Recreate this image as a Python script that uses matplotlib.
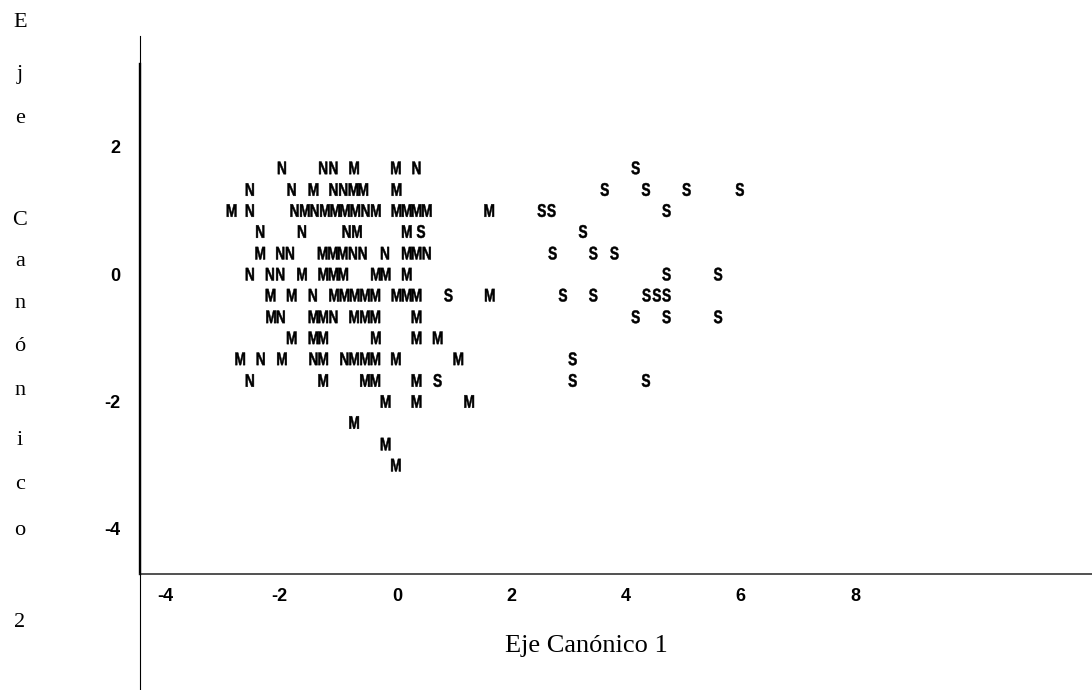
from pathlib import Path

import matplotlib

matplotlib.use("Agg")
import matplotlib.pyplot as plt
from matplotlib import patheffects
from matplotlib.lines import Line2D
from matplotlib.transforms import Affine2D, ScaledTranslation

# group N
n_x = [-2.01, -1.29, -1.11, 0.34,
       -2.57, -1.84, -1.11, -0.94,
       -2.57, -1.79, -1.44, -0.55,
       -2.39, -1.66, -0.88,
       -2.04, -1.87, -0.77, -0.60, -0.21, 0.52,
       -2.57, -2.22, -2.04,
       -1.47,
       -2.03, -1.11,
       -2.38, -1.46, -0.92,
       -2.57]
n_y = [1.67, 1.67, 1.67, 1.67,
       1.33, 1.33, 1.33, 1.33,
       1.0, 1.0, 1.0, 1.0,
       0.67, 0.67, 0.67,
       0.33, 0.33, 0.33, 0.33, 0.33, 0.33,
       0.0, 0.0, 0.0,
       -0.33,
       -0.67, -0.67,
       -1.33, -1.33, -1.33,
       -1.67]

# group M
m_x = [-0.75, -0.02,
       -1.46, -0.76, -0.59, -0.01,
       -2.89, -1.61, -1.26, -1.08, -0.91, -0.73, -0.37, -0.01, 0.17, 0.34, 0.52, 1.61,
       -0.70, 0.17,
       -2.39, -1.30, -1.12, -0.95, 0.17, 0.34,
       -1.66, -1.29, -1.11, -0.94, -0.37, -0.20, 0.17,
       -2.21, -1.84, -1.10, -0.92, -0.74, -0.56, -0.38, -0.01, 0.17, 0.34, 1.62,
       -2.20, -1.46, -1.29, -0.75, -0.56, -0.38, 0.34,
       -1.84, -1.46, -1.29, -0.37, 0.34, 0.71,
       -2.74, -2.01, -1.29, -0.75, -0.56, -0.38, -0.02, 1.07,
       -1.29, -0.56, -0.38, 0.34,
       -0.20, 0.34, 1.26,
       -0.75,
       -0.20,
       -0.02]
m_y = [1.67, 1.67,
       1.33, 1.33, 1.33, 1.33,
       1.0, 1.0, 1.0, 1.0, 1.0, 1.0, 1.0, 1.0, 1.0, 1.0, 1.0, 1.0,
       0.67, 0.67,
       0.33, 0.33, 0.33, 0.33, 0.33, 0.33,
       0.0, 0.0, 0.0, 0.0, 0.0, 0.0, 0.0,
       -0.33, -0.33, -0.33, -0.33, -0.33, -0.33, -0.33, -0.33, -0.33, -0.33, -0.33,
       -0.67, -0.67, -0.67, -0.67, -0.67, -0.67, -0.67,
       -1.0, -1.0, -1.0, -1.0, -1.0, -1.0,
       -1.33, -1.33, -1.33, -1.33, -1.33, -1.33, -1.33, -1.33,
       -1.67, -1.67, -1.67, -1.67,
       -2.0, -2.0, -2.0,
       -2.33,
       -2.67,
       -3.0]

# group S
s_x = [4.17,
       3.63, 4.35, 5.06, 5.99,
       2.53, 2.70, 4.71,
       0.42, 3.25,
       2.72, 3.43, 3.80,
       4.71, 5.61,
       0.90, 2.90, 3.43, 4.36, 4.54, 4.71,
       4.17, 4.71, 5.61,
       3.07,
       0.71, 3.07, 4.35]
s_y = [1.67,
       1.33, 1.33, 1.33, 1.33,
       1.0, 1.0, 1.0,
       0.67, 0.67,
       0.33, 0.33, 0.33,
       0.0, 0.0,
       -0.33, -0.33, -0.33, -0.33, -0.33, -0.33,
       -0.67, -0.67, -0.67,
       -1.33,
       -1.67, -1.67, -1.67]

x_ticks = [-4, -2, 0, 2, 4, 6, 8]
y_ticks = [2, 0, -2, -4]
x_title = "Eje Canónico 1"
y_title = "Eje Canónico 2"

W, H = 1092, 690


class Stretch(patheffects.AbstractPathEffect):
    """Rescale the glyphs around the centre of their ink, with a thin outline."""

    def __init__(self, sx, sy, lw=0.0):
        super().__init__()
        self.sx = sx
        self.sy = sy
        self.lw = lw

    def draw_path(self, renderer, gc, tpath, affine, rgbFace=None):
        box = tpath.get_extents(affine)
        cx = 0.5 * (box.x0 + box.x1)
        cy = 0.5 * (box.y0 + box.y1)
        grow = Affine2D().translate(-cx, -cy).scale(self.sx, self.sy).translate(cx, cy)
        gc0 = renderer.new_gc()
        gc0.copy_properties(gc)
        gc0.set_linewidth(self.lw)
        if rgbFace is not None:
            gc0.set_foreground(rgbFace)
        renderer.draw_path(gc0, tpath, affine + grow, rgbFace)
        gc0.restore()


def fx(px):
    return px / W


def fy(py):
    return 1 - py / H


def main() -> None:
    plt.rcParams["axes.unicode_minus"] = False
    fig = plt.figure(figsize=(W / 100, H / 100), dpi=100)
    fig.patch.set_facecolor("white")

    # plot area: x from px 140 to 1092, y from px 36 to 574
    ax = fig.add_axes([fx(140), fy(574), fx(1092) - fx(140), fy(36) - fy(574)])
    ax.set_xlim((140 - 397) / 57.25, (1092 - 397) / 57.25)
    ax.set_ylim((274 - 574) / 63.65, (274 - 36) / 63.65)
    ax.patch.set_alpha(0)

    for side in ["top", "right"]:
        ax.spines[side].set_visible(False)
    ax.spines["left"].set_linewidth(1.7)
    ax.spines["left"].set_bounds((274 - 574) / 63.65, (274 - 64) / 63.65)
    ax.spines["bottom"].set_linewidth(1.1)
    ax.spines["bottom"].set_color("#222222")

    # thin frame line continuing above and below the y axis
    fig.add_artist(Line2D([fx(140), fx(140)], [fy(36), fy(690)],
                          transform=fig.transFigure, color="black", lw=0.8))

    tick_font = dict(family=["Liberation Sans", "DejaVu Sans"], weight="bold", size=13)
    ax.set_xticks(x_ticks)
    ax.set_xticklabels([str(t) for t in x_ticks], ha="right", **tick_font)
    ax.set_yticks(y_ticks)
    ax.set_yticklabels([str(t) for t in y_ticks], **tick_font)
    ax.tick_params(axis="x", length=0, pad=10)
    ax.tick_params(axis="y", length=0, pad=14)
    shift = ScaledTranslation(3.6 / 72, 0, fig.dpi_scale_trans)
    for lab in ax.get_xticklabels():
        lab.set_transform(lab.get_transform() + shift)

    # letter markers: small text, drawn tall and narrow like the old line-printer plot
    letter_font = dict(family=["Liberation Sans", "DejaVu Sans"], weight="bold", size=8.2)
    drop = ScaledTranslation(0, -2.95 / 72, fig.dpi_scale_trans)
    tall = [Stretch(1.2, 1.6, lw=0.35)]
    for letter, xs, ys in [("N", n_x, n_y), ("M", m_x, m_y), ("S", s_x, s_y)]:
        for x, y in zip(xs, ys):
            ax.text(x, y, letter, ha="center", va="baseline",
                    transform=ax.transData + drop, path_effects=tall,
                    **letter_font)

    # axis titles (serif, y title stacked one character per line)
    serif = ["Liberation Serif", "DejaVu Serif"]
    fig.text(fx(586), fy(652), x_title, ha="center", va="baseline",
             family=serif, size=19)
    stacked = [c for c in y_title if c != " "]
    baselines = [27, 79, 123, 225, 266, 308, 351, 395, 445, 489, 535, 627]
    for ch, base in zip(stacked, baselines):
        fig.text(fx(20), fy(base), ch, ha="center", va="baseline",
                 family=serif, size=16)

    out = Path("out.png")
    fig.savefig(out, dpi=100, facecolor="white")
    print(f"Saved {out}")


if __name__ == "__main__":
    main()
